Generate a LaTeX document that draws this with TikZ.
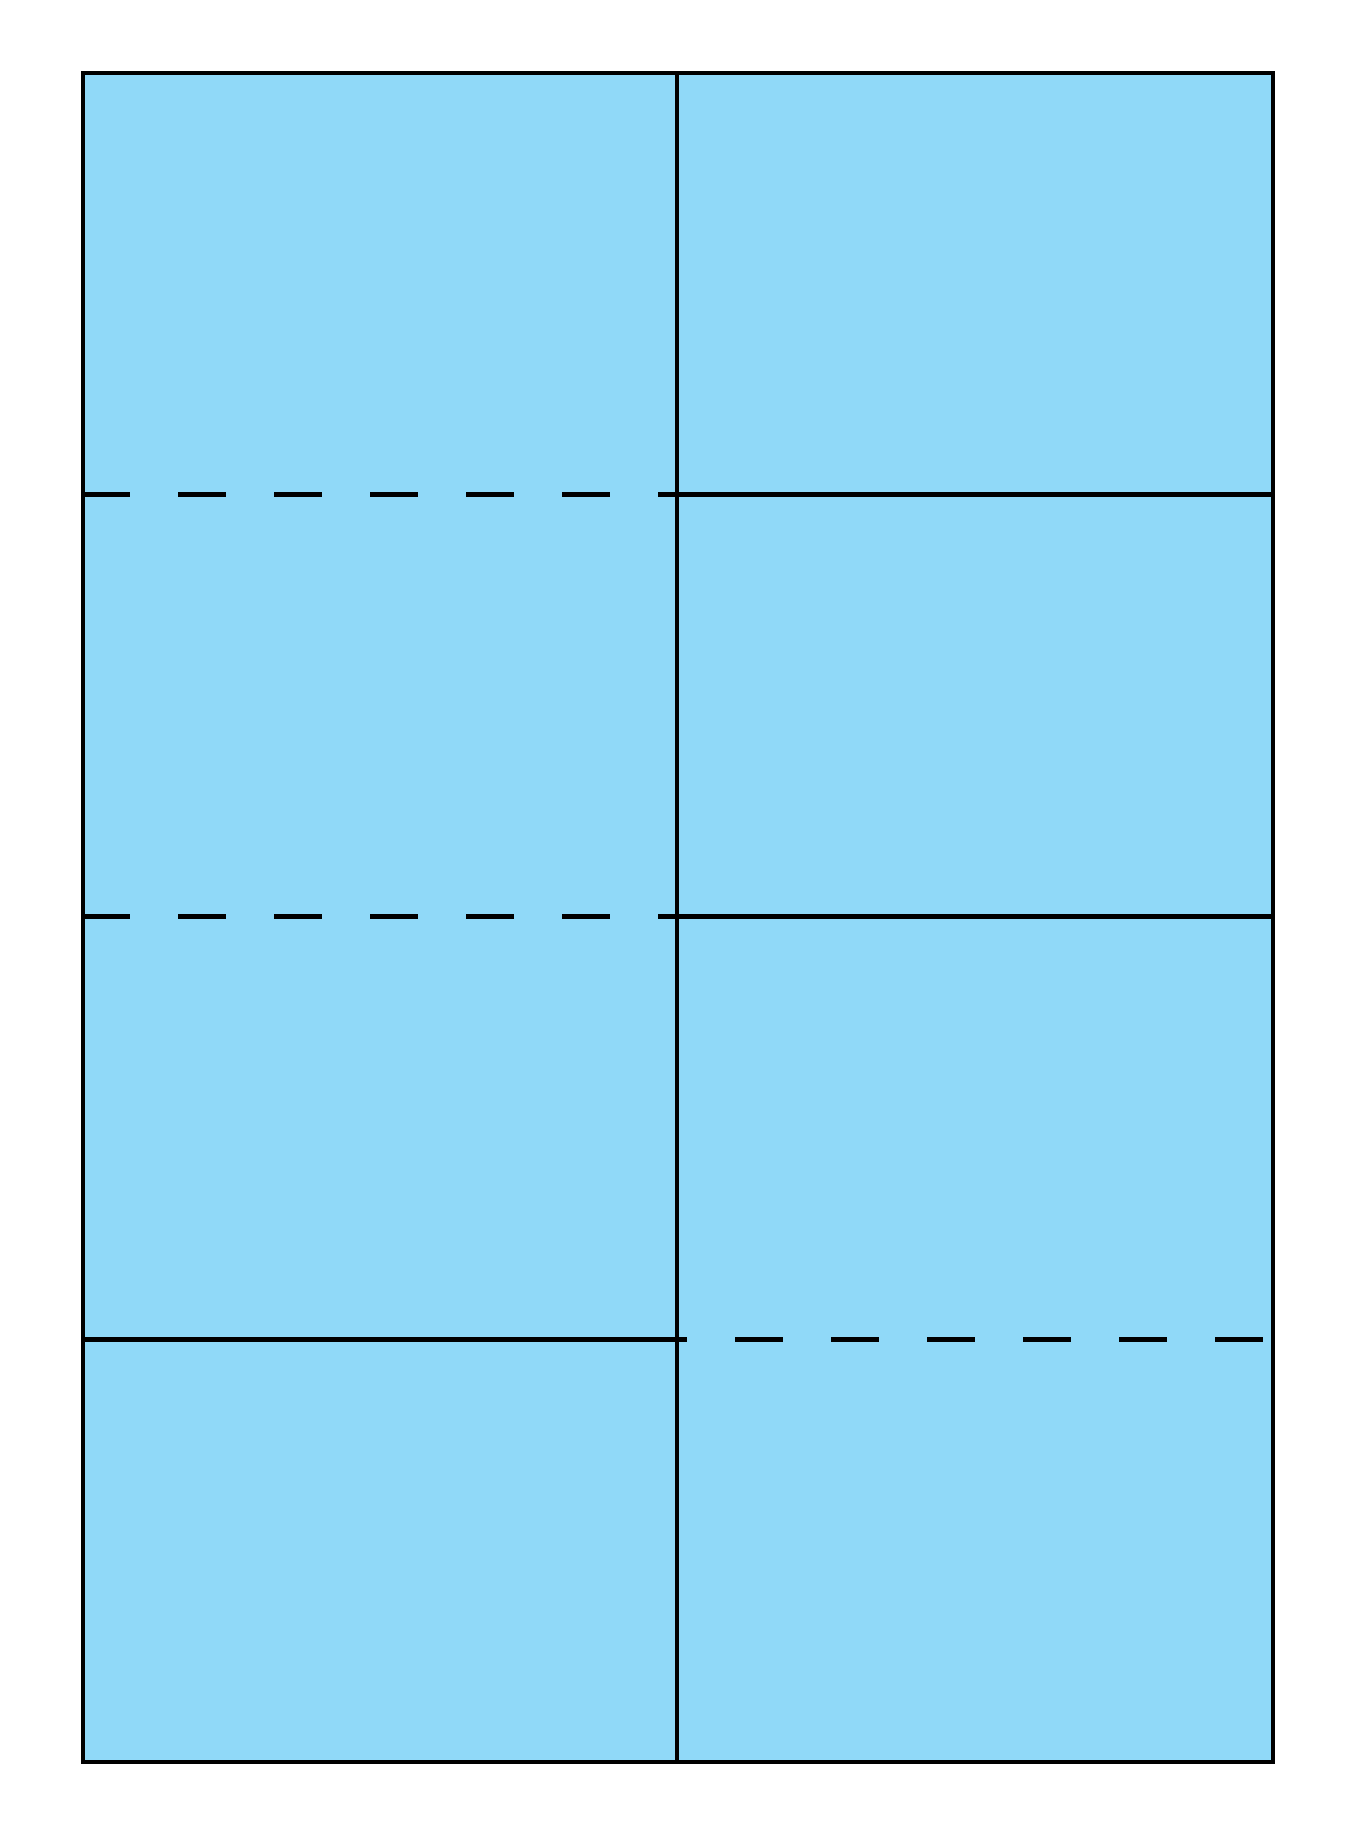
\documentclass[tikz,border=0pt]{standalone}
\usepackage{tikz}
\definecolor{sheetblue}{RGB}{144,217,248}
\tikzset{
  cutline/.style  = {black,line width=1.15pt},
  foldline/.style = {black,line width=1.15pt,dash pattern=on 4.8mm off 4.8mm}
}

\begin{document}
\begin{tikzpicture}[x=0.1mm,y=-0.1mm]
  \useasboundingbox (0,0) rectangle (1360,1847);
  \coordinate (nw) at (83,73);
  \coordinate (se) at (1273,1762);
  \fill[sheetblue] (nw) rectangle (se);
  % left column
  \draw[foldline] (82,494.5) -- (677,494.5);
  \draw[foldline] (82,916.5) -- (677,916.5);
  \draw[cutline]  (83,1339.5) -- (677,1339.5);
  % right column
  \draw[cutline]  (677,494.5) -- (1273,494.5);
  \draw[cutline]  (677,916.5) -- (1273,916.5);
  \draw[foldline] (639,1339.5) -- (1273,1339.5);
  \draw[cutline]  (677,73) -- (677,1762);
  \draw[cutline]  (nw) rectangle (se);
\end{tikzpicture}
\end{document}
